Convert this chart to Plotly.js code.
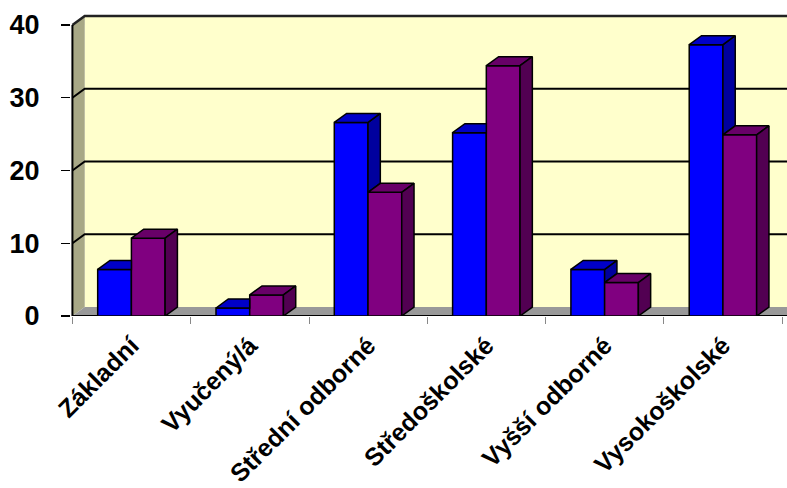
<!DOCTYPE html>
<html>
<head>
<meta charset="utf-8">
<script src="https://cdn.plot.ly/plotly-3.0.1.min.js"></script>
<style>
  html, body { margin: 0; padding: 0; background: #fff; }
  #chart { width: 787px; height: 488px; }
</style>
</head>
<body>
<div id="chart"></div>
<script>
// Education levels and the two series (per cent)
const categories = ['Základní', 'Vyučený/á', 'Střední odborné', 'Středoškolské', 'Vyšší odborné', 'Vysokoškolské'];
const seriesBlue = [6.4, 1.1, 26.6, 25.2, 6.4, 37.3];
const seriesPurple = [10.7, 2.9, 17.0, 34.4, 4.6, 24.9];
const yTickValues = [0, 10, 20, 30, 40];
const yTickText = ['0', '10', '20', '30', '40'];

// Pseudo-3D geometry, in axis units
const DX = 0.104;      // depth shift along x (category units)
const DY = 1.237;      // depth shift along y (value units)
const BAR_W = 0.285;   // width of one bar front face
const START = 0.2135;  // left edge of the first bar inside its category
const XMAX = 6.04;
const YMAX = 42.06;
const WALL_TOP = 40;

const n = categories.length;
const centers = categories.map((_, i) => i + 0.5);

// Build closed polygons (separated by null) for the top and side faces
function poly(list, pts) {
  pts.forEach(p => list.push(p));
  list.push(pts[0]);
  list.push([null, null]);
}
const blueTop = [], blueSide = [], purpleTop = [], purpleSide = [];
for (let i = 0; i < n; i++) {
  const hA = seriesBlue[i], hB = seriesPurple[i];
  const xl = i + START, xr = xl + BAR_W, xr2 = xr + BAR_W;
  if (hB > hA) {
    // the taller neighbour hides the back-right part of this top
    poly(blueTop, [[xl, hA], [xr, hA], [xr, hA + DY], [xl + DX, hA + DY]]);
  } else {
    poly(blueTop, [[xl, hA], [xr, hA], [xr + DX, hA + DY], [xl + DX, hA + DY]]);
    poly(blueSide, [[xr, hB], [xr, hA], [xr + DX, hA + DY], [xr + DX, hB + DY]]);
  }
  poly(purpleTop, [[xr, hB], [xr2, hB], [xr2 + DX, hB + DY], [xr + DX, hB + DY]]);
  poly(purpleSide, [[xr2, 0], [xr2, hB], [xr2 + DX, hB + DY], [xr2 + DX, DY]]);
}

function faceTrace(list, color) {
  return {
    type: 'scatter', mode: 'lines', fill: 'toself', fillcolor: color,
    x: list.map(p => p[0]), y: list.map(p => p[1]),
    line: { color: '#000', width: 1.5 }, connectgaps: false,
    hoverinfo: 'skip', showlegend: false
  };
}

const outline = { color: '#000', width: 1.5 };
const traces = [
  {
    type: 'bar', x: centers, y: seriesBlue, width: BAR_W, offset: START - 0.5,
    marker: { color: '#0000FF', line: outline }, showlegend: false
  },
  {
    type: 'bar', x: centers, y: seriesPurple, width: BAR_W, offset: START + BAR_W - 0.5,
    marker: { color: '#800080', line: outline }, showlegend: false
  },
  faceTrace(blueSide, '#00009E'),
  faceTrace(blueTop, '#0000C8'),
  faceTrace(purpleTop, '#680068'),
  faceTrace(purpleSide, '#520052')
];

// Walls, floor and gridlines
const shapes = [
  { type: 'rect', xref: 'x', yref: 'y', x0: DX, x1: XMAX, y0: DY, y1: WALL_TOP + DY,
    fillcolor: '#FFFFCC', line: { width: 0 }, layer: 'below' },
  { type: 'path', xref: 'x', yref: 'y', layer: 'below',
    path: `M0,0 L0,${WALL_TOP} L${DX},${WALL_TOP + DY} L${DX},${DY} Z`,
    fillcolor: '#A8A886', line: { width: 0 } },
  { type: 'path', xref: 'x', yref: 'y', layer: 'below',
    path: `M0,0 L${XMAX},0 L${XMAX},${DY} L${DX},${DY} Z`,
    fillcolor: '#999999', line: { width: 0 } }
];
[10, 20, 30].forEach(v => {
  shapes.push({ type: 'path', xref: 'x', yref: 'y', layer: 'below',
    path: `M0,${v} L${DX},${v + DY} L${XMAX},${v + DY}`,
    line: { color: '#000', width: 2 } });
});
shapes.push({ type: 'path', xref: 'x', yref: 'y', layer: 'below',
  path: `M0,${WALL_TOP} L${DX},${WALL_TOP + DY} L${XMAX},${WALL_TOP + DY}`,
  line: { color: '#222', width: 2.5 } });
shapes.push({ type: 'line', xref: 'x', yref: 'y', layer: 'below',
  x0: 0, x1: 0, y0: 0, y1: WALL_TOP, line: { color: '#000', width: 2 } });
shapes.push({ type: 'line', xref: 'x', yref: 'y', layer: 'below',
  x0: 0, x1: XMAX, y0: 0, y1: 0, line: { color: '#000', width: 2 } });

const tickFont = { family: 'Liberation Sans, Arial, sans-serif', size: 25, weight: 'bold', color: '#000' };

const layout = {
  width: 787, height: 488,
  margin: { l: 71, r: 0, t: 10, b: 172 },
  paper_bgcolor: '#fff', plot_bgcolor: '#fff',
  barmode: 'overlay',
  showlegend: false,
  xaxis: {
    range: [-0.012, XMAX], showgrid: false, zeroline: false, showline: false,
    tickmode: 'array', tickvals: centers, ticktext: categories,
    ticks: '', tickangle: -45, tickfont: tickFont, ticklabelstandoff: 9,
    minor: { tickmode: 'array', tickvals: [0, 1, 2, 3, 4, 5, 6], ticks: 'outside',
             ticklen: 7, tickcolor: '#888', tickwidth: 1, showgrid: false }
  },
  yaxis: {
    range: [0, YMAX], showgrid: false, zeroline: false, showline: false,
    tickmode: 'array', tickvals: yTickValues, ticktext: yTickText,
    ticks: 'outside', ticklen: 9, tickcolor: '#000', tickwidth: 1.5,
    ticklabelstandoff: 16,
    tickfont: { family: 'Liberation Sans, Arial, sans-serif', size: 27, weight: 'bold', color: '#000' }
  },
  shapes: shapes
};

Plotly.newPlot('chart', traces, layout, { displayModeBar: false, staticPlot: true });
</script>
</body>
</html>
